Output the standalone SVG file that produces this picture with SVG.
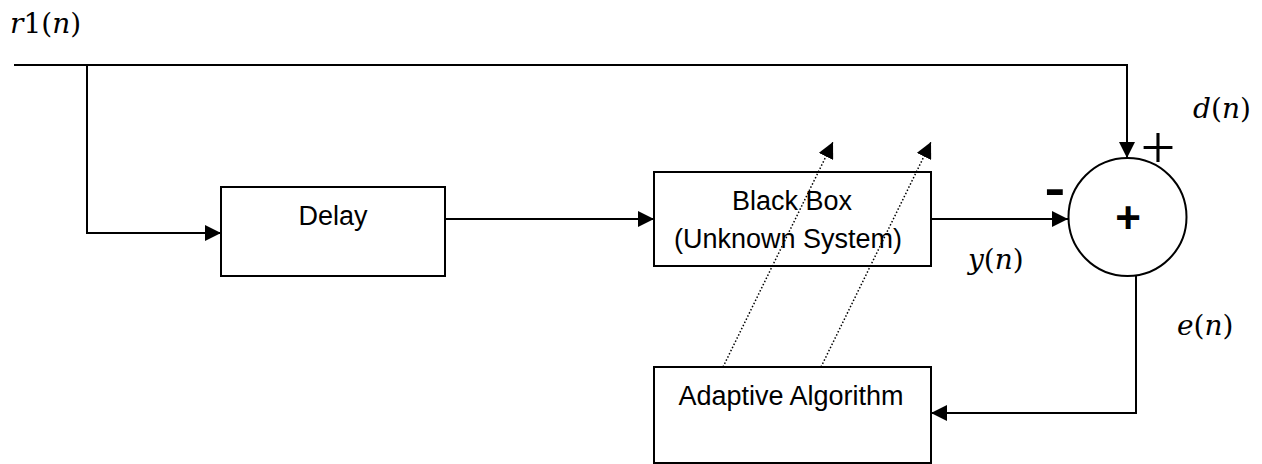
<svg xmlns="http://www.w3.org/2000/svg" width="1262" height="464" viewBox="0 0 1262 464">
<style>
.ln{fill:none;stroke:#000;stroke-width:2}
.dot{fill:none;stroke:#000;stroke-width:1.5;stroke-dasharray:1.5 2}
.box{fill:#fff;stroke:#000;stroke-width:2}
.lbl{font-family:"Liberation Sans",Arial,sans-serif;font-size:27px;fill:#000;text-anchor:middle}
.math{font-family:"DejaVu Serif","Liberation Serif",serif;font-size:28px;fill:#000}
.it{font-style:italic}
.sym{font-family:"Liberation Sans",Arial,sans-serif;fill:#000;text-anchor:middle}
</style>
<defs>
<marker id="ah" markerUnits="userSpaceOnUse" markerWidth="16" markerHeight="16" refX="16" refY="8" orient="auto">
<path d="M0,0 L16,8 L0,16 Z" fill="#000"/>
</marker>
</defs>
<rect width="1262" height="464" fill="#fff"/>
<g id="connectors">
<polyline class="ln" points="14,65 1127,65 1127,158" marker-end="url(#ah)"/>
<polyline class="ln" points="87,65 87,233 221,233" marker-end="url(#ah)"/>
<line class="ln" x1="445" y1="219" x2="654" y2="219" marker-end="url(#ah)"/>
<line class="ln" x1="931" y1="219" x2="1068" y2="219" marker-end="url(#ah)"/>
<polyline class="ln" points="1136,275 1136,413 931,413" marker-end="url(#ah)"/>
<line class="dot" x1="723" y1="367" x2="833" y2="142" marker-end="url(#ah)"/>
<line class="dot" x1="821" y1="367" x2="931" y2="142" marker-end="url(#ah)"/>
</g>
<g id="delay">
<rect class="box" x="221" y="187" width="224" height="89"/>
<text class="lbl" x="333" y="225">Delay</text>
</g>
<g id="blackbox">
<rect class="box" x="654" y="172" width="277" height="94" fill-opacity="0"/>
<text class="lbl" x="792" y="210">Black Box</text>
<text class="lbl" x="788" y="248">(Unknown System)</text>
</g>
<g id="adaptive">
<rect class="box" x="654" y="367" width="277" height="96"/>
<text class="lbl" x="791" y="405">Adaptive Algorithm</text>
</g>
<g id="sum">
<circle class="box" cx="1127.5" cy="217" r="59"/>
<text class="sym" x="1128" y="233" font-size="44" font-weight="bold">+</text>
<text x="1158" y="168" font-size="62" text-anchor="middle" font-family="'Liberation Serif',serif" fill="#000">+</text>
<text class="sym" font-size="48" font-weight="bold" transform="translate(1055,205) scale(1.3,1)">-</text>
</g>
<g id="labels">
<text class="math" x="10" y="33" font-size="30"><tspan class="it">r</tspan>1(<tspan class="it">n</tspan>)</text>
<text class="math" x="1193" y="118"><tspan class="it">d</tspan>(<tspan class="it">n</tspan>)</text>
<text class="math" x="968" y="269"><tspan class="it">y</tspan>(<tspan class="it">n</tspan>)</text>
<text class="math" x="1177" y="335"><tspan class="it">e</tspan>(<tspan class="it">n</tspan>)</text>
</g>
</svg>
